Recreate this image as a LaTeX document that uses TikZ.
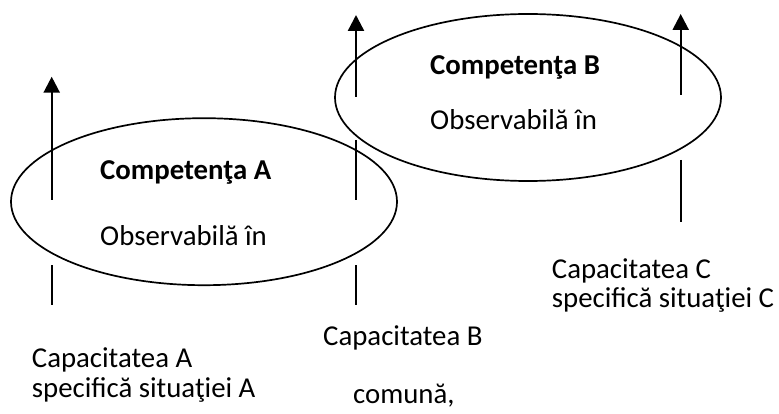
\documentclass[tikz,border=0pt]{standalone}
\usepackage{fontspec}
\setmainfont{Carlito}
\usetikzlibrary{arrows.meta,shapes.geometric}

\begin{document}
\begin{tikzpicture}[x=1pt,y=-1pt,font=\fontsize{28.8}{34}\selectfont,
    lbl/.style={anchor=base west,inner sep=0pt},
    oval/.style={ellipse,draw,line width=1.7pt,minimum width=386pt,minimum height=167pt,inner sep=0pt},
    up/.style={line width=2.4pt,-{Triangle[length=16pt,width=16pt]}},
    tick/.style={line width=1.8pt}]
          \useasboundingbox (0,0) rectangle (779,414);

          \node[oval] (compA) at (204,201.7) {};
          \node[oval] (compB) at (528,97.5) {};

          \node[lbl] (titleA) at (100,179.3) {\textbf{Competenţa A}};
          \node[lbl] (obsA) at (100,245) {Observabilă în};
          \node[lbl] (titleB) at (430,75) {\textbf{Competenţa B}};
          \node[lbl] (obsB) at (430,129.3) {Observabilă în};

          \node[lbl] (capC) at (551.7,278) {Capacitatea C};
          \node[lbl] (specC) at (551.7,307) {specifică situaţiei C};
          \node[lbl] (capB) at (323,345) {Capacitatea B};
          \node[lbl] (comB) at (353,403) {comună,};
          \node[lbl] (capA) at (31.7,367) {Capacitatea A};
          \node[lbl] (specA) at (31.7,397) {specifică situaţiei A};

          \coordinate (a0) at (51.7,200);   \coordinate (a1) at (51.7,76.7);
          \coordinate (a2) at (51.7,265);   \coordinate (a3) at (51.7,305);
          \coordinate (b0) at (356,96.7);   \coordinate (b1) at (356,15);
          \coordinate (b2) at (356,140);    \coordinate (b3) at (356,200);
          \coordinate (b4) at (356,265);    \coordinate (b5) at (356,305);
          \coordinate (c0) at (680.7,95);   \coordinate (c1) at (680.7,14);
          \coordinate (c2) at (680.7,160);  \coordinate (c3) at (680.7,221.7);

          \draw[up] (a0) -- (a1);
          \draw[up] (b0) -- (b1);
          \draw[up] (c0) -- (c1);
          \draw[tick] (a2) -- (a3);
          \draw[tick] (b2) -- (b3);
          \draw[tick] (b4) -- (b5);
          \draw[tick] (c2) -- (c3);
\end{tikzpicture}
\end{document}
